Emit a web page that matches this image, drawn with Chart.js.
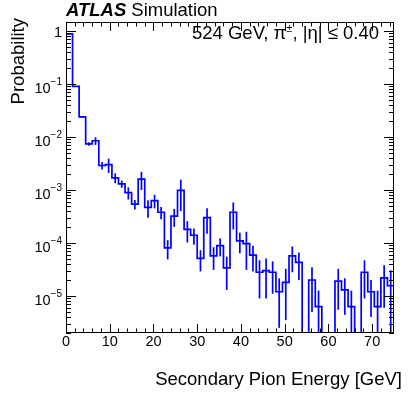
<!DOCTYPE html>
<html>
<head>
<meta charset="utf-8">
<script src="https://cdn.jsdelivr.net/npm/chart.js@4/dist/chart.umd.min.js"></script>
<style>
  html, body { margin: 0; padding: 0; background: #fff; }
  #wrap { width: 415px; height: 399px; position: relative; }
</style>
</head>
<body>
<div id="wrap"><canvas id="pionChart"></canvas></div>
<script>
// bin edges [GeV]
var binEdges = [0, 1.5, 3, 4.5, 6, 7.5, 9, 10.5, 12, 13.5, 15, 16.5, 18, 19.5, 21, 22.5, 24, 25.5, 27, 28.5,
  30, 31.5, 33, 34.5, 36, 37.5, 39, 40.5, 42, 43.5, 45, 46.5, 48, 49.5, 51, 52.5, 54, 55.5, 57, 58.5,
  60, 61.5, 63, 64.5, 66, 67.5, 69, 70.5, 72, 73.5, 75];

// probability per bin
var probability = [0.88, 0.090, 0.024, 0.0074, 0.0085, 0.0029, 0.0030, 0.0017, 0.0013, 0.00089,
  0.00054, 0.0016, 0.00047, 0.00063, 0.00038, 0.000081, 0.00032, 0.00098, 0.00018, 0.00014,
  0.000051, 0.00030, 0.000057, 0.000089, 0.000034, 0.00038, 0.00011, 0.000097, 0.000059, 0.000028,
  0.000030, 0.000028, 0.000012, 0.000018, 0.000057, 0.000043, 0, 0.000020, 0.0000063, 0,
  0, 0.000019, 0.000013, 0.0000063, 0, 0.000028, 0.000012, 0.0000063, 0.000022, 0.0000156];

// statistical error per bin
var probError = [0.003, 0.001, 0.0008, 0.0006, 0.0014, 0.00046, 0.0009, 0.00036, 0.0002, 0.00023,
  0.00011, 0.0006, 0.00017, 0.00018, 0.0001, 0.000032, 0.00012, 0.00058, 0.000078, 0.000047,
  0.000022, 0.00015, 0.000026, 0.000033, 0.000021, 0.0002, 0.000046, 0.000066, 0.00003, 0.000019,
  0.000021, 0.000017, 0.0000095, 0.0000145, 0.000029, 0.000023, 0, 0.000015, 0.0000063, 0,
  0, 0.0000135, 0.0000086, 0.0000063, 0, 0.000019, 0.000008, 0.0000063, 0.000016, 0.000015];

var xTickMajor = [0, 10, 20, 30, 40, 50, 60, 70];
var xTickMinorStep = 2;
var yTickMajor = [1, 1e-1, 1e-2, 1e-3, 1e-4, 1e-5];
var yTickBase = ['1', '10', '10', '10', '10', '10'];
var yTickExp = ['', '\u22121', '\u22122', '\u22123', '\u22124', '\u22125'];

var xMin = 0, xMax = 75, yMin = 2e-6, yMax = 1.48;

var FONT = '"Liberation Sans", Arial, Helvetica, sans-serif';
var LINE_BLUE = '#0000ff';

// histogram outline as stepped line (left edge of each bin, plus the closing edge)
var histPoints = [];
for (var i = 0; i < probability.length; i++) {
  histPoints.push({ x: binEdges[i], y: probability[i] > 0 ? probability[i] : 1e-9 });
}
histPoints.push({ x: binEdges[binEdges.length - 1], y: histPoints[histPoints.length - 1].y });

var rootStyle = {
  id: 'rootStyle',
  afterDatasetsDraw: function(chart) {
    var ctx = chart.ctx, xs = chart.scales.x, ys = chart.scales.y, a = chart.chartArea;
    ctx.save();
    ctx.beginPath();
    ctx.rect(a.left, a.top, a.right - a.left, a.bottom - a.top);
    ctx.clip();
    ctx.strokeStyle = LINE_BLUE;
    ctx.lineWidth = 1.7;
    for (var i = 0; i < probability.length; i++) {
      var v = probability[i], e = probError[i];
      if (!(v > 0)) continue;
      var cx = xs.getPixelForValue((binEdges[i] + binEdges[i + 1]) / 2);
      var yTop = ys.getPixelForValue(v + e);
      var yBot = (v - e) > 0 ? ys.getPixelForValue(v - e) : a.bottom + 2;
      ctx.beginPath();
      ctx.moveTo(cx, yTop);
      ctx.lineTo(cx, yBot);
      ctx.stroke();
    }
    ctx.restore();
  },
  afterDraw: function(chart) {
    var ctx = chart.ctx, xs = chart.scales.x, ys = chart.scales.y, a = chart.chartArea;
    ctx.save();
    ctx.strokeStyle = '#000';
    ctx.lineWidth = 1;
    ctx.strokeRect(a.left + 0.5, a.top + 0.5, a.right - a.left - 1, a.bottom - a.top - 1);

    // x ticks (bottom and top, inward)
    ctx.beginPath();
    for (var t = xMin; t <= xMax; t += xTickMinorStep) {
      var px = Math.round(xs.getPixelForValue(t)) + 0.5;
      var len = (t % 10 === 0) ? 9 : 4.5;
      ctx.moveTo(px, a.bottom); ctx.lineTo(px, a.bottom - len);
      ctx.moveTo(px, a.top); ctx.lineTo(px, a.top + len);
    }
    // y ticks (left and right, inward)
    for (var d = -6; d <= 0; d++) {
      for (var m = 1; m <= 9; m++) {
        var val = m * Math.pow(10, d);
        if (val < yMin || val > yMax) continue;
        var py = Math.round(ys.getPixelForValue(val)) + 0.5;
        var ll = (m === 1) ? 10 : 5;
        ctx.moveTo(a.left, py); ctx.lineTo(a.left + ll, py);
        ctx.moveTo(a.right, py); ctx.lineTo(a.right - ll, py);
      }
    }
    ctx.stroke();

    ctx.fillStyle = '#000';
    // x tick labels
    ctx.font = '14.5px ' + FONT;
    ctx.textAlign = 'center';
    ctx.textBaseline = 'alphabetic';
    xTickMajor.forEach(function(t) {
      ctx.fillText(String(t), xs.getPixelForValue(t), a.bottom + 13);
    });

    // y tick labels (10 with superscript exponent)
    yTickMajor.forEach(function(v, k) {
      var py = ys.getPixelForValue(v);
      var right = a.left - 4;
      ctx.textAlign = 'right';
      if (yTickExp[k] === '') {
        ctx.font = '14.5px ' + FONT;
        ctx.fillText(yTickBase[k], right, py + 6);
      } else {
        ctx.font = '10px ' + FONT;
        var ew = ctx.measureText(yTickExp[k]).width;
        ctx.fillText(yTickExp[k], right, py + 1);
        ctx.font = '14.5px ' + FONT;
        ctx.fillText(yTickBase[k], right - ew, py + 9);
      }
    });

    // axis titles
    ctx.font = '18.5px ' + FONT;
    ctx.textAlign = 'right';
    ctx.fillText('Secondary Pion Energy [GeV]', 402, 385);
    ctx.save();
    ctx.translate(24, 18);
    ctx.rotate(-Math.PI / 2);
    ctx.fillText('Probability', 0, 0);
    ctx.restore();

    // ATLAS label
    ctx.textAlign = 'left';
    ctx.font = 'italic bold 18.5px ' + FONT;
    ctx.fillText('ATLAS', a.left, 16);
    var aw = ctx.measureText('ATLAS').width;
    ctx.font = '18.5px ' + FONT;
    ctx.fillText('Simulation', a.left + aw + 5, 16);

    // energy / eta annotation
    var parts = [['524 GeV, \u03c0', 18.5, 0], ['\u00b1', 11, -7], [', |\u03b7| \u2264 0.40', 18.5, 0]];
    var total = 0;
    parts.forEach(function(p) { ctx.font = p[1] + 'px ' + FONT; total += ctx.measureText(p[0]).width; });
    var x0 = 379 - total;
    parts.forEach(function(p) {
      ctx.font = p[1] + 'px ' + FONT;
      ctx.fillText(p[0], x0, 39 + p[2]);
      x0 += ctx.measureText(p[0]).width;
    });
    ctx.restore();
  }
};

var ctxPion = document.getElementById('pionChart').getContext('2d');

new Chart(ctxPion, {
  type: 'line',
  data: {
    datasets: [{
      label: 'Secondary pions',
      data: histPoints,
      stepped: 'before',
      borderColor: LINE_BLUE,
      borderWidth: 1.7,
      pointRadius: 0,
      fill: false,
      tension: 0
    }]
  },
  options: {
    responsive: true,
    maintainAspectRatio: false,
    animation: false,
    devicePixelRatio: 1,
    layout: { padding: { left: 66, right: 21, top: 22, bottom: 66 } },
    plugins: { legend: { display: false }, tooltip: { enabled: false } },
    scales: {
      x: { type: 'linear', min: xMin, max: xMax, display: false },
      y: { type: 'logarithmic', min: yMin, max: yMax, display: false }
    }
  },
  plugins: [rootStyle]
});
</script>
</body>
</html>
